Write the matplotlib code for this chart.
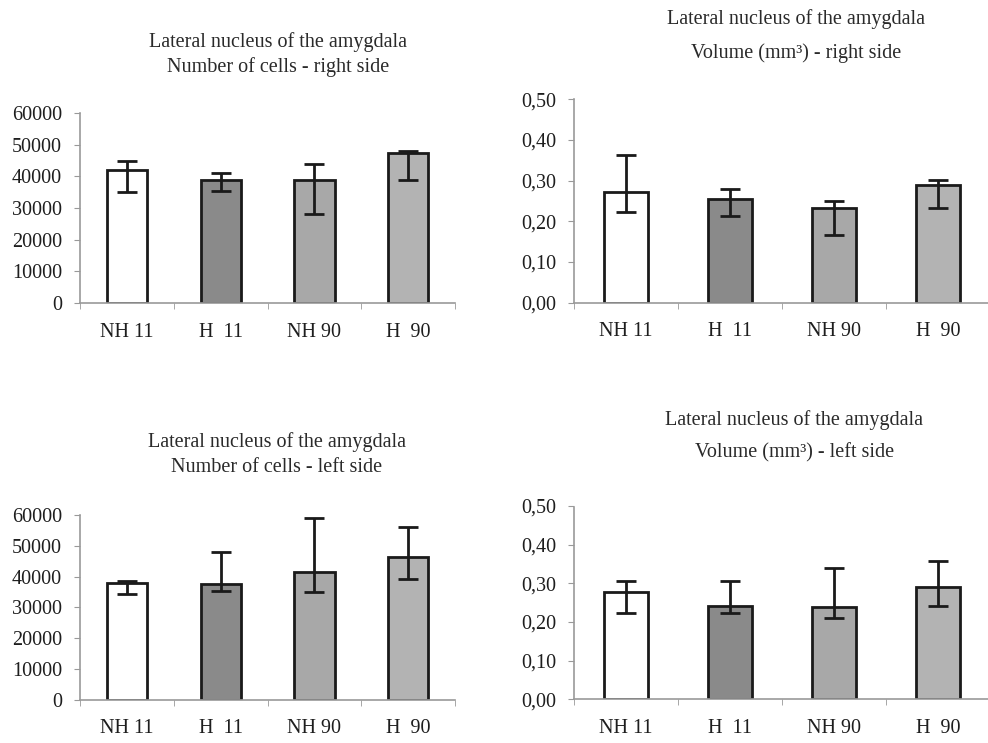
import matplotlib.pyplot as plt
import numpy as np

plt.rcParams['font.family'] = ['Liberation Serif', 'DejaVu Serif']

groups = ['NH 11', 'H  11', 'NH 90', 'H  90']

# number of cells, right side (mean, lower and upper end of the bar)
cells_right = [42000, 39000, 39000, 47500]
cells_right_lo = [35000, 35500, 28000, 39000]
cells_right_hi = [44700, 41000, 44000, 48000]

# volume mm3, right side
vol_right = [0.272, 0.256, 0.232, 0.290]
vol_right_lo = [0.223, 0.213, 0.167, 0.233]
vol_right_hi = [0.364, 0.279, 0.250, 0.301]

# number of cells, left side
cells_left = [38000, 37700, 41600, 46300]
cells_left_lo = [34500, 35500, 35000, 39200]
cells_left_hi = [38500, 48100, 58900, 56200]

# volume mm3, left side
vol_left = [0.278, 0.242, 0.238, 0.290]
vol_left_lo = [0.224, 0.223, 0.211, 0.242]
vol_left_hi = [0.305, 0.306, 0.339, 0.357]

cell_ticks = [0, 10000, 20000, 30000, 40000, 50000, 60000]
vol_ticks = [0.0, 0.1, 0.2, 0.3, 0.4, 0.5]
vol_labels = ['0,00', '0,10', '0,20', '0,30', '0,40', '0,50']

bar_colors = ['white', '#8a8a8a', '#a8a8a8', '#b3b3b3']


def bar_panel(rect, vals, lo, hi, yticks, ylabels, ymax, title1, title2, t1y, t2y):
    ax = fig.add_axes(rect)
    x = np.arange(len(groups))
    vals = np.array(vals)
    err = [vals - np.array(lo), np.array(hi) - vals]
    ax.bar(x, vals, width=0.43, color=bar_colors, edgecolor='#1a1a1a', linewidth=2)
    ax.errorbar(x, vals, yerr=err, fmt='none', ecolor='#1a1a1a', elinewidth=2,
                capsize=7, capthick=2)
    ax.set_xlim(-0.5, 3.5)
    ax.set_ylim(0, ymax)
    ax.set_yticks(yticks)
    ax.set_yticklabels(ylabels, fontsize=14.5, color='#1e1e1e')
    ax.set_xticks(x)
    ax.set_xticklabels(groups, fontsize=14.5, color='#1e1e1e')
    ax.set_xticks(np.arange(-0.5, 4.0, 1.0), minor=True)
    ax.tick_params(axis='x', which='major', length=0, pad=14)
    ax.tick_params(axis='x', which='minor', length=4, color='#999999', direction='out')
    ax.tick_params(axis='y', length=4, color='#999999', pad=9)
    for s in ['top', 'right']:
        ax.spines[s].set_visible(False)
    for s in ['left', 'bottom']:
        ax.spines[s].set_color('#9a9a9a')
        ax.spines[s].set_linestyle((0, (1, 1)))
        ax.spines[s].set_linewidth(1.2)
    ax.patch.set_alpha(0)
    fig.text(title1[1], t1y, title1[0], ha='center', va='center', fontsize=14.5, color='#2a2a2a')
    fig.text(title2[1], t2y, title2[0], ha='center', va='center', fontsize=14.5, color='#2a2a2a')
    return ax


fig = plt.figure(figsize=(9.88, 7.43), dpi=100)

bar_panel([0.081, 0.592, 0.3796, 0.256], cells_right, cells_right_lo, cells_right_hi,
          cell_ticks, [str(t) for t in cell_ticks], 60000,
          ('Lateral nucleus of the amygdala', 0.281), ('Number of cells - right side', 0.281),
          1 - 42 / 743, 1 - 67 / 743)

bar_panel([0.581, 0.5926, 0.421, 0.2738], vol_right, vol_right_lo, vol_right_hi,
          vol_ticks, vol_labels, 0.5,
          ('Lateral nucleus of the amygdala', 0.806), ('Volume (mm³) - right side', 0.806),
          1 - 19 / 743, 1 - 53 / 743)

bar_panel([0.081, 0.0579, 0.3796, 0.249], cells_left, cells_left_lo, cells_left_hi,
          cell_ticks, [str(t) for t in cell_ticks], 60000,
          ('Lateral nucleus of the amygdala', 0.28), ('Number of cells - left side', 0.28),
          1 - 442 / 743, 1 - 468 / 743)

bar_panel([0.581, 0.0588, 0.421, 0.2602], vol_left, vol_left_lo, vol_left_hi,
          vol_ticks, vol_labels, 0.5,
          ('Lateral nucleus of the amygdala', 0.804), ('Volume (mm³) - left side', 0.804),
          1 - 420 / 743, 1 - 453 / 743)

fig.savefig('out.png', dpi=100)
